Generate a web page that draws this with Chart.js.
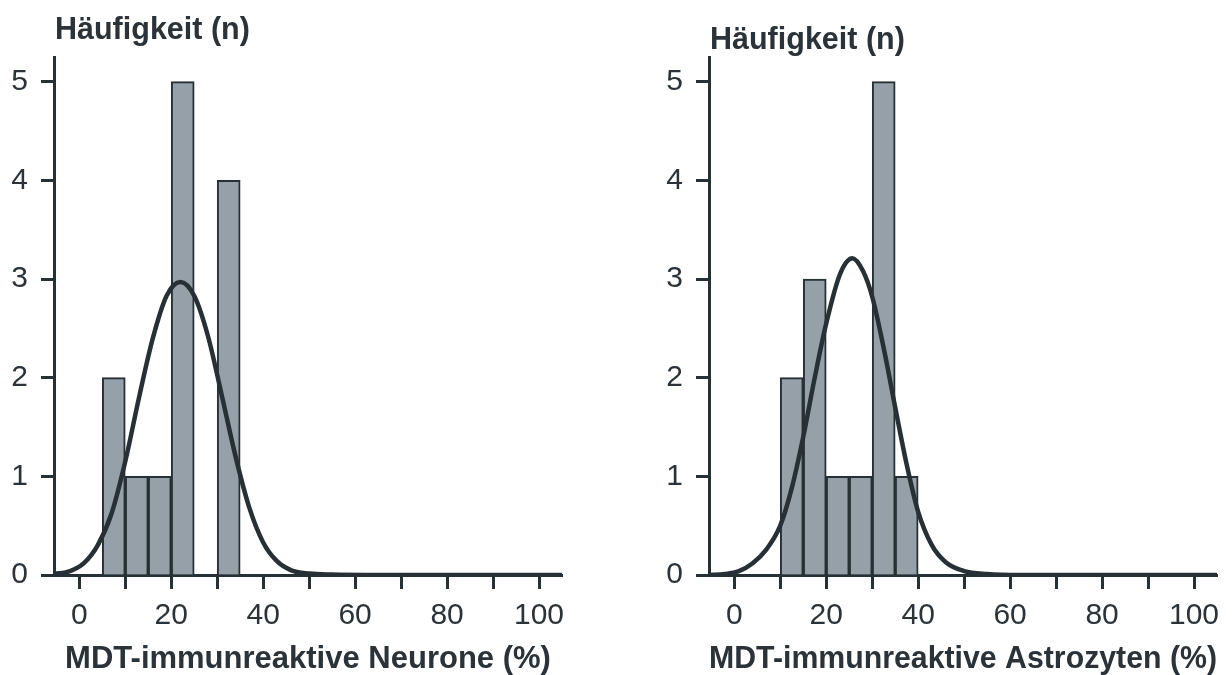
<!DOCTYPE html>
<html lang="de">
<head>
<meta charset="utf-8">
<title>MDT-immunreaktive Neurone und Astrozyten</title>
<script src="https://cdn.jsdelivr.net/npm/chart.js@4.4.1/dist/chart.umd.min.js"></script>
<style>
    html, body { margin: 0; padding: 0; background: #fff; }
    body {
        width: 1232px;
        height: 675px;
        position: relative;
        overflow: hidden;
        font-family: "Liberation Sans", Arial, sans-serif;
    }
    .panel { position: absolute; top: 0; width: 616px; height: 675px; }
    #panelLeft { left: 0; }
    #panelRight { left: 616px; }
    .ytitle {
        position: absolute;
        font-weight: bold;
        font-size: 30.5px;
        line-height: 30px;
        color: #2b3338;
        white-space: nowrap;
    }
</style>
</head>
<body>

<div class="panel" id="panelLeft">
    <div class="ytitle" style="left:55px; top:13px;">Häufigkeit (n)</div>
    <canvas id="chartNeurone" width="616" height="675"></canvas>
</div>
<div class="panel" id="panelRight">
    <div class="ytitle" style="left:94px; top:23px;">Häufigkeit (n)</div>
    <canvas id="chartAstro" width="616" height="675"></canvas>
</div>

<script>
// ---------- Data ----------
// Histogram bins (bin centres, width 5 %) and counts
var neuronBins = [7.5, 12.5, 17.5, 22.5, 27.5, 32.5];
var neuronCounts = [2, 1, 1, 5, 0, 4];

var astroBins = [12.5, 17.5, 22.5, 27.5, 32.5, 37.5];
var astroCounts = [2, 3, 1, 1, 5, 1];

// Fitted normal curves, sampled along the x axis
var neuronCurveX = [-5.5, -2, 1, 4, 7, 10, 13, 16, 19, 22, 25, 28, 31, 34, 37, 40, 43, 46, 50, 55, 62, 75, 105];
var neuronCurveY = [0.01, 0.04, 0.12, 0.3, 0.62, 1.15, 1.8, 2.4, 2.83, 2.97, 2.83, 2.42, 1.82, 1.2, 0.68, 0.33, 0.14, 0.05, 0.015, 0.004, 0, 0, 0];

var astroCurveX = [-5.5, -2, 1, 4, 7, 10, 12.5, 15, 17.5, 20, 23, 25.7, 28, 30, 32.5, 35, 37.5, 40, 43, 46, 50, 55, 62, 75, 105];
var astroCurveY = [0, 0.01, 0.04, 0.12, 0.26, 0.5, 0.88, 1.4, 2.0, 2.55, 3.05, 3.21, 3.08, 2.82, 2.3, 1.7, 1.12, 0.64, 0.3, 0.13, 0.04, 0.01, 0, 0, 0];

// Axis labels
var xTickLabels = [0, 20, 40, 60, 80, 100];
var yTickLabels = [0, 1, 2, 3, 4, 5];

// ---------- Styles ----------
var ink = '#263035';
var textColor = '#2b3338';
var barFill = '#95a0a8';
var fontFamily = '"Liberation Sans", Arial, sans-serif';

function toPoints(xs, ys) {
    return xs.map(function(x, i) {
        return { x: x, y: ys[i] };
    });
}

// ---------- Chart builder ----------
function makeHistogram(canvasId, bins, counts, curveX, curveY, xTitle, yAxisWidth, rightPad) {
    var ctx = document.getElementById(canvasId).getContext('2d');
    return new Chart(ctx, {
        type: 'bar',
        data: {
            datasets: [{
                type: 'line',
                data: toPoints(curveX, curveY),
                borderColor: ink,
                borderWidth: 4.5,
                pointRadius: 0,
                fill: false,
                cubicInterpolationMode: 'monotone',
                order: 0
            }, {
                type: 'bar',
                data: toPoints(bins, counts),
                backgroundColor: barFill,
                borderColor: ink,
                borderWidth: 2,
                barPercentage: 1,
                categoryPercentage: 1,
                order: 1
            }]
        },
        options: {
            responsive: false,
            animation: false,
            devicePixelRatio: 1,
            layout: {
                padding: { top: 57, right: rightPad, bottom: 0, left: 0 }
            },
            plugins: {
                legend: { display: false },
                tooltip: { enabled: false }
            },
            scales: {
                x: {
                    type: 'linear',
                    min: -5.5,
                    max: 105,
                    offset: false,
                    afterFit: function(scale) { scale.height = 100; },
                    ticks: {
                        stepSize: 10,
                        includeBounds: false,
                        autoSkip: false,
                        maxRotation: 0,
                        padding: 9,
                        color: textColor,
                        font: { family: fontFamily, size: 30 },
                        callback: function(value) {
                            return xTickLabels.indexOf(value) !== -1 ? String(value) : '';
                        }
                    },
                    grid: {
                        offset: false,
                        drawOnChartArea: false,
                        drawTicks: true,
                        tickLength: 14,
                        tickWidth: 3,
                        color: ink
                    },
                    border: { color: ink, width: 3 },
                    title: {
                        display: true,
                        text: xTitle,
                        color: textColor,
                        padding: 0,
                        font: { family: fontFamily, size: 31, weight: 'bold', lineHeight: 1 }
                    }
                },
                y: {
                    min: 0,
                    max: 5.25,
                    afterFit: function(scale) { scale.width = yAxisWidth; },
                    ticks: {
                        stepSize: 1,
                        includeBounds: false,
                        padding: 13,
                        color: textColor,
                        font: { family: fontFamily, size: 30 },
                        callback: function(value) {
                            return yTickLabels.indexOf(value) !== -1 ? String(value) : '';
                        }
                    },
                    grid: {
                        drawOnChartArea: false,
                        drawTicks: true,
                        tickLength: 13,
                        tickWidth: 3,
                        color: ink
                    },
                    border: { color: ink, width: 3 }
                }
            }
        }
    });
}

makeHistogram('chartNeurone', neuronBins, neuronCounts, neuronCurveX, neuronCurveY,
    'MDT-immunreaktive Neurone (%)', 54, 54);
makeHistogram('chartAstro', astroBins, astroCounts, astroCurveX, astroCurveY,
    'MDT-immunreaktive Astrozyten (%)', 93, 15);
</script>
</body>
</html>
